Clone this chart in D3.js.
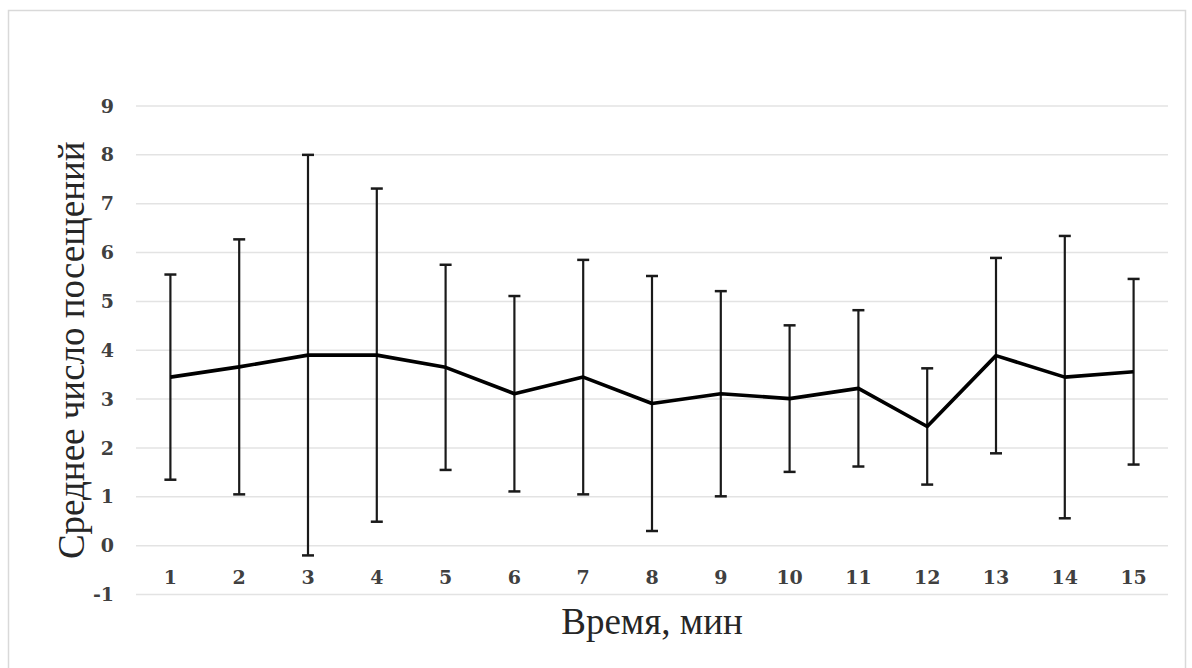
<!DOCTYPE html>
<html>
<head>
<meta charset="utf-8">
<script src="https://cdn.jsdelivr.net/npm/d3@7"></script>
<style>
  body { margin: 0; background: #fff; }
</style>
</head>
<body>
<script>
// Data
var minutes = ["1", "2", "3", "4", "5", "6", "7", "8", "9", "10", "11", "12", "13", "14", "15"];
var meanVisits = [3.45, 3.66, 3.90, 3.90, 3.65, 3.11, 3.45, 2.91, 3.11, 3.01, 3.22, 2.44, 3.89, 3.45, 3.56];
var sdVisits = [2.10, 2.61, 4.10, 3.41, 2.10, 2.00, 2.40, 2.61, 2.10, 1.50, 1.60, 1.19, 2.00, 2.89, 1.90];
var yTicks = [-1, 0, 1, 2, 3, 4, 5, 6, 7, 8, 9];

var data = minutes.map(function(m, i) {
  return { minute: m, mean: meanVisits[i], sd: sdVisits[i] };
});

var W = 1192, H = 668;
var margin = {top: 106, right: 24, bottom: 73.5, left: 136},
    width = W - margin.left - margin.right,
    height = H - margin.top - margin.bottom;

var svg = d3.select("body").append("svg")
  .attr("width", W)
  .attr("height", H);

// outer frame
svg.append("rect")
  .attr("x", 8.5)
  .attr("y", 10.5)
  .attr("width", 1177)
  .attr("height", 680)
  .style("fill", "none")
  .style("stroke", "#d9d9d9")
  .style("stroke-width", 1.5);

var g = svg.append("g")
  .attr("transform", "translate(" + margin.left + "," + margin.top + ")");

var x = d3.scaleBand()
  .domain(minutes)
  .range([0, width])
  .padding(0);

var y = d3.scaleLinear()
  .domain([-1, 9])
  .range([height, 0]);

// gridlines
g.selectAll(".grid")
  .data(yTicks)
  .enter().append("line")
  .attr("class", "grid")
  .attr("x1", 0)
  .attr("x2", width)
  .attr("y1", function(d) { return y(d); })
  .attr("y2", function(d) { return y(d); })
  .style("stroke", "#e3e3e3")
  .style("stroke-width", 1.5);

// y axis labels
var yAxis = g.append("g")
  .call(d3.axisLeft(y).tickValues(yTicks).tickSize(0).tickPadding(22)
    .tickFormat(function(d) { return String(d); }));
yAxis.select(".domain").remove();
yAxis.selectAll("text")
  .style("font", "bold 19px 'DejaVu Serif'")
  .style("fill", "#404040");

// x axis labels, placed between 0 and -1
var xAxis = g.append("g")
  .attr("transform", "translate(0," + y(-0.65) + ")")
  .call(d3.axisBottom(x).tickSize(0).tickPadding(0));
xAxis.select(".domain").remove();
xAxis.selectAll("text")
  .attr("dy", "0.35em")
  .attr("y", 0)
  .style("font", "bold 19px 'DejaVu Serif'")
  .style("fill", "#404040");

var cx = function(d) { return x(d.minute) + x.bandwidth() / 2; };

// error bars
var bars = g.selectAll(".err")
  .data(data)
  .enter().append("g")
  .attr("class", "err");

bars.append("line")
  .attr("x1", cx).attr("x2", cx)
  .attr("y1", function(d) { return y(d.mean + d.sd); })
  .attr("y2", function(d) { return y(d.mean - d.sd); })
  .style("stroke", "#1a1a1a")
  .style("stroke-width", 2.2);

bars.append("line")
  .attr("x1", function(d) { return cx(d) - 6; })
  .attr("x2", function(d) { return cx(d) + 6; })
  .attr("y1", function(d) { return y(d.mean + d.sd); })
  .attr("y2", function(d) { return y(d.mean + d.sd); })
  .style("stroke", "#1a1a1a")
  .style("stroke-width", 2.5);

bars.append("line")
  .attr("x1", function(d) { return cx(d) - 6; })
  .attr("x2", function(d) { return cx(d) + 6; })
  .attr("y1", function(d) { return y(d.mean - d.sd); })
  .attr("y2", function(d) { return y(d.mean - d.sd); })
  .style("stroke", "#1a1a1a")
  .style("stroke-width", 2.5);

// mean line
var line = d3.line()
  .x(cx)
  .y(function(d) { return y(d.mean); });

g.append("path")
  .datum(data)
  .attr("d", line)
  .style("fill", "none")
  .style("stroke", "#000")
  .style("stroke-width", 3.6)
  .style("stroke-linejoin", "round");

// axis titles
svg.append("text")
  .attr("x", margin.left + width / 2)
  .attr("y", 634)
  .attr("text-anchor", "middle")
  .style("font", "37px 'Liberation Serif'")
  .style("fill", "#262626")
  .text("Время, мин");

svg.append("text")
  .attr("transform", "translate(84," + (margin.top + height / 2) + ") rotate(-90)")
  .attr("text-anchor", "middle")
  .style("font", "37px 'Liberation Serif'")
  .style("fill", "#262626")
  .text("Среднее число посещений");
</script>
</body>
</html>
